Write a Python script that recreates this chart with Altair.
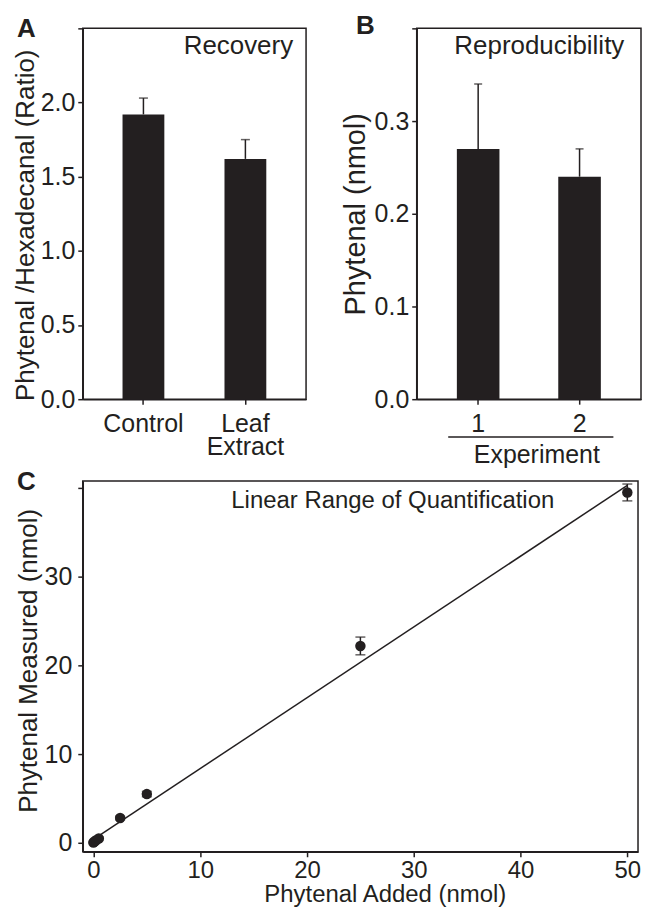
import altair as alt
import pandas as pd

# ---------------- data ----------------
# Panel A: Recovery
recovery_cats = ["Control", "Leaf Extract"]
recovery_vals = [1.92, 1.62]
recovery_err = [0.11, 0.13]

# Panel B: Reproducibility
repro_cats = ["1", "2"]
repro_vals = [0.27, 0.24]
repro_err = [0.07, 0.03]

# Panel C: Linear range of quantification
added = [0, 0.1, 0.25, 0.5, 2.5, 5, 25, 50]
measured = [0.05, 0.15, 0.3, 0.5, 2.8, 5.5, 22.2, 39.5]
measured_err = [0.1, 0.1, 0.1, 0.15, 0.2, 0.3, 1.0, 0.95]
fit_x = [0, 50]
fit_y = [0.4, 40.3]

INK = "#231f20"
FONT = "Liberation Sans"
FS = 25

dfA = pd.DataFrame({"cat": recovery_cats, "val": recovery_vals, "err": recovery_err})
dfA["hi"] = dfA["val"] + dfA["err"]
dfB = pd.DataFrame({"cat": repro_cats, "val": repro_vals, "err": repro_err})
dfB["hi"] = dfB["val"] + dfB["err"]
dfC = pd.DataFrame({"x": added, "y": measured, "err": measured_err})
dfC["lo"] = dfC["y"] - dfC["err"]
dfC["hi"] = dfC["y"] + dfC["err"]
dfFit = pd.DataFrame({"x": fit_x, "y": fit_y})


def note(text, x, y, size=FS, weight="normal", align="left"):
    return alt.Chart(pd.DataFrame({"t": [text]})).mark_text(
        font=FONT, fontSize=size, fontWeight=weight, color=INK,
        align=align, baseline="alphabetic"
    ).encode(text="t:N", x=alt.value(x), y=alt.value(y))


# ---------------- panel A ----------------
WA, HA = 224, 372
bandA = alt.Scale(paddingInner=0.59, paddingOuter=0.39)
xA = alt.X("cat:N", sort=recovery_cats, scale=bandA,
           axis=alt.Axis(title=None, labelAngle=0, labelPadding=7,
                         labelExpr="datum.value == 'Leaf Extract' ? ['Leaf', 'Extract'] : datum.label",
                         labelLineHeight=23))
yA = alt.Y("val:Q", scale=alt.Scale(domain=[0, 2.5], nice=False),
           axis=alt.Axis(title="Phytenal /Hexadecanal (Ratio)", values=[0, 0.5, 1, 1.5, 2, 2.5],
                         format=".1f", labelExpr="datum.value > 2.4 ? '' : datum.label",
                         labelPadding=3, titlePadding=2, titleY=197, titleFontSize=26,
                         labelFlush=False))
barsA = alt.Chart(dfA).mark_bar(color=INK).encode(x=xA, y=yA)
errA = alt.Chart(dfA).mark_rule(color=INK, strokeWidth=1.5).encode(
    x=alt.X("cat:N", sort=recovery_cats), y="val:Q", y2="hi:Q")
capA = alt.Chart(dfA).mark_tick(color=INK, thickness=1.5, size=9, orient="horizontal").encode(
    x=alt.X("cat:N", sort=recovery_cats), y="hi:Q")
panelA = alt.layer(barsA, errA, capA,
                   note("Recovery", 211, 26, size=26, align="right"),
                   note("A", -66, 9, size=26, weight="bold")).properties(width=WA, height=HA)

# ---------------- panel B ----------------
WB, HB = 225, 372
bandB = alt.Scale(paddingInner=0.58, paddingOuter=0.396)
xB = alt.X("cat:N", sort=repro_cats, scale=bandB,
           axis=alt.Axis(title="Experiment", labelAngle=0, labelPadding=7, titlePadding=7,
                         titleX=120, titleAlign="center"))
yB = alt.Y("val:Q", scale=alt.Scale(domain=[0, 0.4], nice=False),
           axis=alt.Axis(title="Phytenal (nmol)", values=[0, 0.1, 0.2, 0.3, 0.4],
                         format=".1f", labelExpr="datum.value > 0.35 ? '' : datum.label",
                         labelPadding=3, titlePadding=4, titleFontSize=29, labelFlush=False))
barsB = alt.Chart(dfB).mark_bar(color=INK).encode(x=xB, y=yB)
errB = alt.Chart(dfB).mark_rule(color=INK, strokeWidth=1.5).encode(
    x=alt.X("cat:N", sort=repro_cats), y="val:Q", y2="hi:Q")
capB = alt.Chart(dfB).mark_tick(color=INK, thickness=1.5, size=8, orient="horizontal").encode(
    x=alt.X("cat:N", sort=repro_cats), y="hi:Q")
lineB = alt.Chart(pd.DataFrame({"a": [0]})).mark_rule(color=INK, strokeWidth=1.5).encode(
    x=alt.value(31.6), x2=alt.value(197.3), y=alt.value(410))
panelB = alt.layer(barsB, errB, capB, lineB,
                   note("Reproducibility", 123, 26, size=26, align="center"),
                   note("B", -61, 6, size=26, weight="bold")).properties(width=WB, height=HB)

# ---------------- panel C ----------------
WC, HC = 557, 372
xC = alt.X("x:Q", scale=alt.Scale(domain=[-1, 51], nice=False),
           axis=alt.Axis(title="Phytenal Added (nmol)", values=[0, 10, 20, 30, 40, 50],
                         labelPadding=2, titlePadding=0, titleX=303, titleAlign="center",
                         labelFontSize=24, titleFontSize=24, labelFlush=False))
yC = alt.Y("y:Q", scale=alt.Scale(domain=[-1, 40.8], nice=False),
           axis=alt.Axis(title="Phytenal Measured (nmol)", values=[0, 10, 20, 30, 40],
                         labelExpr="datum.value == 40 ? '' : datum.label",
                         labelPadding=6, titlePadding=3, titleFontSize=26, titleY=180,
                         labelFlush=False))
fitC = alt.Chart(dfFit).mark_line(color=INK, strokeWidth=1.5).encode(x=xC, y=yC)
errC = alt.Chart(dfC).mark_rule(color=INK, strokeWidth=1.5).encode(x="x:Q", y="lo:Q", y2="hi:Q")
capLoC = alt.Chart(dfC).mark_tick(color=INK, thickness=1.5, size=10, orient="horizontal").encode(
    x="x:Q", y="lo:Q")
capHiC = alt.Chart(dfC).mark_tick(color=INK, thickness=1.5, size=10, orient="horizontal").encode(
    x="x:Q", y="hi:Q")
ptsC = alt.Chart(dfC).mark_point(filled=True, color=INK, size=110, opacity=1).encode(x="x:Q", y="y:Q")
panelC = alt.layer(fitC, errC, capLoC, capHiC, ptsC,
                   note("Linear Range of Quantification", 311, 27, size=24, align="center"),
                   note("C", -66, 9, size=26, weight="bold")).properties(width=WC, height=HC)

top = alt.hconcat(panelA, panelB, spacing=111, bounds="flush")
chart = alt.vconcat(top, panelC, spacing=-1).properties(
    padding={"left": 3, "top": 3, "right": 0, "bottom": 0}
).configure_axis(
    domainColor=INK, domainWidth=1.5, tickColor=INK, tickWidth=1.5, tickSize=5,
    labelFont=FONT, labelFontSize=FS, labelColor=INK,
    titleFont=FONT, titleFontSize=FS, titleFontWeight="normal", titleColor=INK,
    grid=False
).configure_view(stroke=INK, strokeWidth=1.5)

chart.save("out.html", embed_options={"renderer": "svg", "actions": False})
